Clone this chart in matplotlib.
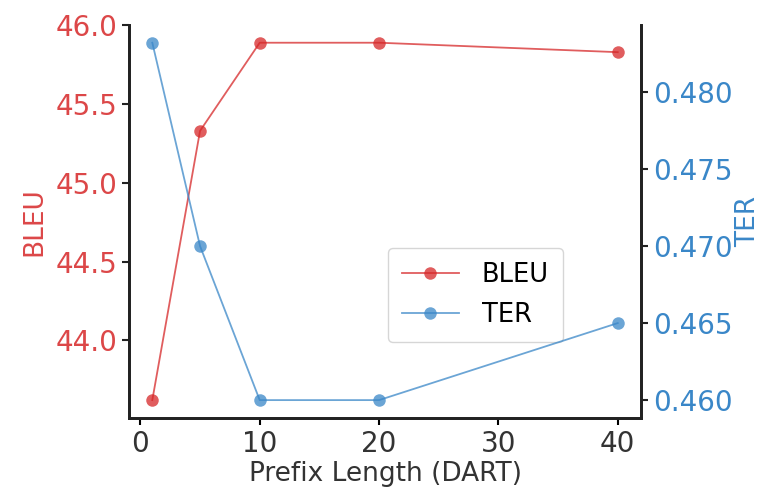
import matplotlib
matplotlib.use("Agg")
import matplotlib.pyplot as plt

prefix_len = [1, 5, 10, 20, 40]
bleu = [43.62, 45.33, 45.89, 45.89, 45.83]
ter = [0.4832, 0.4700, 0.4600, 0.4600, 0.4650]

red = "#d62728"
blue = "#3a87c8"

plt.rcParams["font.family"] = "DejaVu Sans"
plt.rcParams["font.size"] = 20

fig = plt.figure(figsize=(7.74, 4.97), dpi=100)
ax1 = fig.add_axes([0.1667, 0.159, 0.6615, 0.791])
ax2 = ax1.twinx()

l1, = ax1.plot(prefix_len, bleu, "o-", color=red, alpha=0.75, lw=1.3, ms=9, mew=0, label="BLEU")
l2, = ax2.plot(prefix_len, ter, "o-", color=blue, alpha=0.75, lw=1.3, ms=9, mew=0, label="TER")

ax1.set_xlabel("Prefix Length (DART)", fontsize=19, color="#333333", labelpad=2)
ax1.set_ylabel("BLEU", color=red, fontsize=19, alpha=0.85, labelpad=6)
ax2.set_ylabel("TER", color=blue, fontsize=19, labelpad=2)
ax1.set_xticks([0, 10, 20, 30, 40])
ax1.set_yticks([44.0, 44.5, 45.0, 45.5, 46.0])
ax2.set_yticks([0.460, 0.465, 0.470, 0.475, 0.480])
ax2.set_yticklabels(["0.460", "0.465", "0.470", "0.475", "0.480"])

ax1.tick_params(axis="y", colors=red, labelsize=20, width=1.5, length=5)
ax1.tick_params(axis="x", labelcolor="#333333", labelsize=20, width=1.5, length=5)
ax2.tick_params(axis="y", colors=blue, labelsize=20, width=1.5, length=5)
for lab in ax1.get_yticklabels():
    lab.set_alpha(0.85)

for ax in (ax1, ax2):
    ax.spines["top"].set_visible(False)
    for s in ("left", "right", "bottom"):
        ax.spines[s].set_linewidth(2)
        ax.spines[s].set_color("#222222")
ax1.tick_params(axis="y", color="#222222")
ax2.tick_params(axis="y", color="#222222")

ax1.legend([l1, l2], ["BLEU", "TER"], loc="lower left", bbox_to_anchor=(0.506, 0.193),
           borderaxespad=0, fontsize=18.5, handlelength=2.2, borderpad=0.55,
           labelspacing=0.55, handletextpad=0.9)

fig.savefig("out.png", dpi=100)
